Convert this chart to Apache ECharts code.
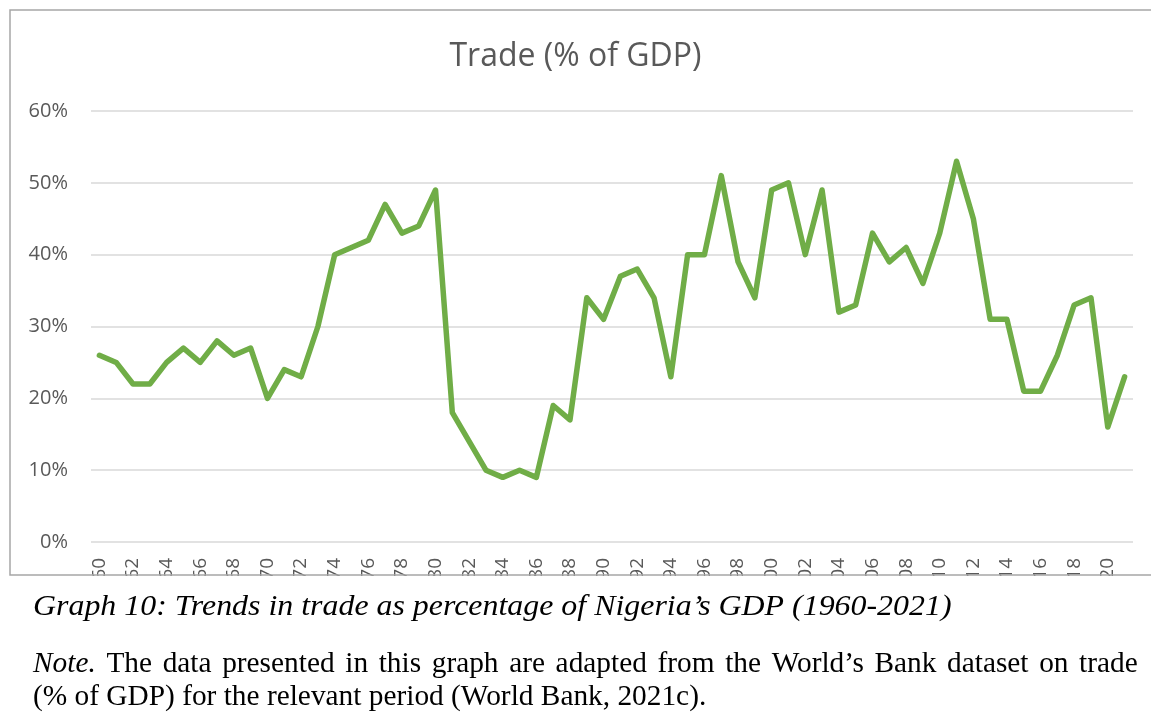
<!DOCTYPE html>
<html lang="en">
<head>
    <meta charset="UTF-8">
    <title>Trade (% of GDP)</title>
    <script src="https://cdn.jsdelivr.net/npm/echarts@6/dist/echarts.min.js"></script>
    <style>
        html, body { margin: 0; padding: 0; background: #fff; }
    </style>
</head>
<body>
    <div id="main" style="width:1151px;height:726px;"></div>

    <script>
    // years 1960 - 2021
    var years = [];
    for (var y = 1960; y <= 2021; y++) years.push(String(y));

    // trade as % of GDP
    var trade = [
        26, 25, 22, 22, 25, 27, 25, 28, 26, 27,
        20, 24, 23, 30, 40, 41, 42, 47, 43, 44,
        49, 18, 14, 10, 9, 10, 9, 19, 17, 34,
        31, 37, 38, 34, 23, 40, 40, 51, 39, 34,
        49, 50, 40, 49, 32, 33, 43, 39, 41, 36,
        43, 53, 45, 31, 31, 21, 21, 26, 33, 34,
        16, 23
    ];

    var yTicks = [0, 10, 20, 30, 40, 50, 60];

    var captionTitle = 'Graph 10: Trends in trade as percentage of Nigeria\u2019s GDP (1960-2021)';
    var noteWords = ['The', 'data', 'presented', 'in', 'this', 'graph', 'are', 'adapted', 'from', 'the',
        'World\u2019s', 'Bank', 'dataset', 'on', 'trade'];
    var noteLine2 = '(% of GDP) for the relevant period (World Bank, 2021c).';

    var myChart = echarts.init(document.getElementById('main'));

    var serif = '"Liberation Serif", "Times New Roman", serif';
    function caption(text, y, sx, rich) {
        return {
            type: 'text',
            z: 102,
            x: 33,
            y: y,
            scaleX: sx,
            style: {
                x: 0,
                y: 0,
                text: text,
                fontFamily: serif,
                fontSize: 29,
                fill: '#000',
                verticalAlign: 'middle',
                rich: rich
            }
        };
    }

    // first note line is justified: wider word gaps
    var noteRich = {
        i: { fontStyle: 'italic', fontFamily: serif, fontSize: 29 },
        w: { fontFamily: serif, fontSize: 29 },
        s: { fontFamily: serif, fontSize: 29, width: 10.5 }
    };
    var noteText = '{i|Note.}{s| }' + noteWords.map(function (w) { return '{w|' + w + '}'; }).join('{s| }');

    var option = {
        animation: false,
        backgroundColor: '#fff',
        title: {
            text: 'Trade (% of GDP)',
            left: 'center',
            top: 36,
            textStyle: {
                fontFamily: 'Open Sans',
                fontWeight: 'normal',
                fontSize: 32,
                color: '#595959'
            }
        },
        grid: {
            left: 91,
            right: 18,
            top: 111,
            bottom: 184
        },
        xAxis: {
            type: 'category',
            data: years,
            boundaryGap: true,
            axisLine: { show: false },
            axisTick: { show: false },
            axisLabel: {
                interval: 1,
                rotate: 90,
                margin: 16,
                fontFamily: 'Open Sans',
                fontSize: 19,
                color: '#595959'
            }
        },
        yAxis: {
            type: 'value',
            min: yTicks[0],
            max: yTicks[yTicks.length - 1],
            interval: 10,
            axisLine: { show: false },
            axisTick: { show: false },
            splitLine: { lineStyle: { color: '#d9d9d9', width: 1.5 } },
            axisLabel: {
                margin: 23,
                fontFamily: 'Open Sans',
                fontSize: 20,
                color: '#595959',
                formatter: '{value}%'
            }
        },
        series: [{
            name: 'Trade',
            type: 'line',
            data: trade,
            showSymbol: false,
            symbol: 'none',
            lineStyle: { color: '#70ad47', width: 5.5, cap: 'round', join: 'round' }
        }],
        graphic: [
            // cover that clips the year labels below the chart frame
            {
                type: 'rect',
                z: 100,
                shape: { x: 0, y: 576, width: 1151, height: 150 },
                style: { fill: '#fff' }
            },
            {
                type: 'rect',
                z: 101,
                shape: { x: 10, y: 10, width: 1160, height: 565 },
                style: { fill: 'none', stroke: '#a6a6a6', lineWidth: 1.5 }
            },
            caption('{i|' + captionTitle + '}', 607, 1.1, {
                i: { fontStyle: 'italic', fontFamily: serif, fontSize: 29 }
            }),
            caption(noteText, 664, 1.012, noteRich),
            caption(noteLine2, 697, 1.012)
        ]
    };

    myChart.setOption(option);
    </script>
</body>
</html>
